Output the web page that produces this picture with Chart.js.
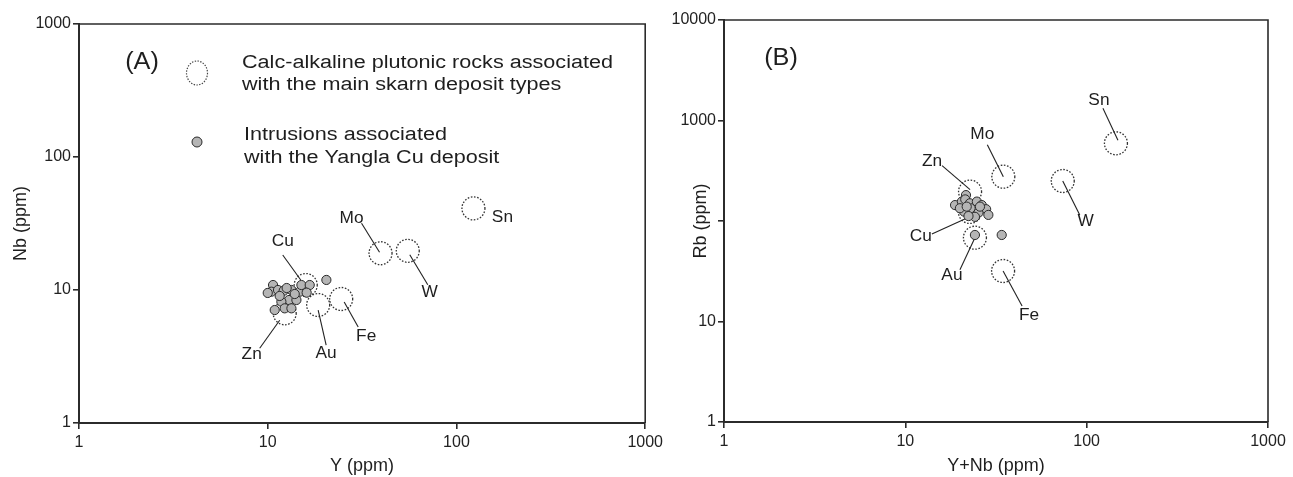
<!DOCTYPE html>
<html>
<head>
<meta charset="utf-8">
<script src="https://cdn.jsdelivr.net/npm/chart.js@4.4.1/dist/chart.umd.min.js"></script>
<style>
    html, body { margin: 0; padding: 0; background: #fff; }
    #wrap { position: relative; width: 1293px; height: 477px; overflow: hidden; }
    #chartA { position: absolute; left: 0; top: 0; }
    #chartB { position: absolute; left: 660px; top: 0; }
</style>
</head>
<body>
<div id="wrap">
    <canvas id="chartA" width="667" height="477"></canvas>
    <canvas id="chartB" width="633" height="477"></canvas>
</div>
<script>
// Skarn deposit types (dashed circles)
const depositTypes = ['Cu', 'Zn', 'Au', 'Fe', 'Mo', 'W', 'Sn'];
const skarnY    = [15.9, 12.3, 18.5, 24.5, 39.6, 55.2, 123];
const skarnNb   = [10.9, 6.68, 7.71, 8.56, 18.9, 19.7, 41.1];
const skarnYNb  = [22.7, 22.75, 24.2, 34.6, 34.7, 73.8, 145];
const skarnRb   = [123, 196, 68.2, 31.8, 276, 250, 593];

// Yangla intrusions (grey dots)
const yanglaY  = [10.67, 10.46, 11.34, 12.15, 13.35, 14.77, 15.08, 16.69, 13.6, 12.97, 11.81,
                  12.3, 13.35, 10.89, 14.19, 20.45, 16.08, 10.0, 11.57, 13.9, 12.6];
const yanglaNb = [10.9, 9.71, 10.0, 9.88, 10.0, 9.71, 10.9, 10.9, 8.66, 8.41, 8.17,
                  7.28, 7.28, 7.07, 8.41, 11.9, 9.55, 9.5, 9.02, 9.33, 10.35];
const yanglaYNb = [21.6, 18.8, 20.5, 21.4, 22.7, 24.8, 26.4, 27.9, 28.7, 22.9, 21.1,
                   25.3, 24.2, 22.3, 20.0, 24.2, 34.0, 25.8, 21.8];
const yanglaRb  = [181, 144, 156, 164, 150, 156, 144, 131, 115, 134, 124,
                   121, 110, 112, 134, 72.6, 72.6, 139, 139];

// Tick labels
const ticksX  = [1, 10, 100, 1000];
const ticksYA = [1, 10, 100, 1000];
const ticksYB = [1, 10, 100, 1000, 10000];
// in panel B the axis title sits over the 100 label
const hiddenLabelsYB = [100];

const FONT = "'Liberation Sans', Arial, sans-serif";
const INK = '#2b2b2b';

// label placement for each deposit type: leader line [x1,y1,x2,y2] and text [x,y], px from circle centre
const labelLayoutA = {
    Cu: { line: [-5, -5, -23, -30], text: [-23, -43] },
    Zn: { line: [-5, 7, -25, 35],   text: [-33, 41] },
    Au: { line: [0, 5, 8, 40],      text: [8, 49] },
    Fe: { line: [3, 3, 17, 28],     text: [25, 38] },
    Mo: { line: [-1, -1, -19, -30], text: [-29, -35] },
    W:  { line: [2, 4, 20, 34],     text: [22, 42] },
    Sn: { line: null,               text: [29, 9] }
};
const labelLayoutB = {
    Cu: { line: [-5, 7, -38, 22],   text: [-49, 25] },
    Zn: { line: [0, -2, -28, -26],  text: [-38, -30] },
    Au: { line: [0, 0, -15, 32],    text: [-23, 38] },
    Fe: { line: [0, 0, 19, 35],     text: [26, 45] },
    Mo: { line: [0, 0, -16, -32],   text: [-21, -42] },
    W:  { line: [0, 0, 17, 34],     text: [23, 41] },
    Sn: { line: [2, -3, -13, -35],  text: [-17, -43] }
};

function pairs(xs, ys) {
    return xs.map((x, i) => ({ x: x, y: ys[i] }));
}

function stretchedText(ctx, text, x, y, size, align, sx) {
    ctx.save();
    ctx.translate(x, y);
    ctx.scale(sx, 1);
    ctx.font = size + 'px ' + FONT;
    ctx.fillStyle = '#1e1e1e';
    ctx.textAlign = align;
    ctx.textBaseline = 'alphabetic';
    ctx.fillText(text, 0, 0);
    ctx.restore();
}

// dashed circles, leader lines and deposit names
const skarnMarks = {
    id: 'skarnMarks',
    beforeDatasetsDraw(chart, args, opts) {
        const ctx = chart.ctx;
        const meta = chart.getDatasetMeta(opts.datasetIndex);
        ctx.save();
        meta.data.forEach((pt, i) => {
            const name = depositTypes[i];
            const lay = opts.layout[name];
            ctx.beginPath();
            ctx.setLineDash([1.6, 1.6]);
            ctx.lineWidth = 1.3;
            ctx.strokeStyle = '#333';
            ctx.arc(pt.x, pt.y, opts.radius, 0, Math.PI * 2);
            ctx.stroke();
            ctx.setLineDash([]);
            if (lay.line) {
                ctx.beginPath();
                ctx.lineWidth = 1.1;
                ctx.strokeStyle = '#222';
                ctx.moveTo(pt.x + lay.line[0], pt.y + lay.line[1]);
                ctx.lineTo(pt.x + lay.line[2], pt.y + lay.line[3]);
                ctx.stroke();
            }
            ctx.font = '16px ' + FONT;
            ctx.fillStyle = '#1e1e1e';
            ctx.textAlign = 'center';
            ctx.textBaseline = 'middle';
            ctx.save();
            ctx.translate(pt.x + lay.text[0], pt.y + lay.text[1]);
            ctx.scale(1.08, 1);
            ctx.fillText(name, 0, 0);
            ctx.restore();
        });
        ctx.restore();
    }
};

// top / right frame lines, panel tag and legend
const panelDecor = {
    id: 'panelDecor',
    afterDraw(chart, args, opts) {
        const ctx = chart.ctx;
        const a = chart.chartArea;
        ctx.save();
        ctx.strokeStyle = INK;
        ctx.lineWidth = 1.6;
        ctx.beginPath();
        ctx.moveTo(a.left, a.top);
        ctx.lineTo(a.right, a.top);
        ctx.lineTo(a.right, a.bottom);
        ctx.stroke();

        stretchedText(ctx, opts.tag, a.left + opts.tagPos[0], a.top + opts.tagPos[1] + 8, 23, 'center', 1.1);

        if (opts.legend) {
            const lx = a.left + 118;
            ctx.beginPath();
            ctx.setLineDash([1.4, 1.4]);
            ctx.lineWidth = 1.2;
            ctx.strokeStyle = '#444';
            ctx.ellipse(lx, a.top + 49, 10.5, 12, 0, 0, Math.PI * 2);
            ctx.stroke();
            ctx.setLineDash([]);

            ctx.beginPath();
            ctx.fillStyle = '#b5b5b5';
            ctx.strokeStyle = '#2a2a2a';
            ctx.lineWidth = 1;
            ctx.arc(lx, a.top + 118, 5, 0, Math.PI * 2);
            ctx.fill();
            ctx.stroke();

            stretchedText(ctx, 'Calc-alkaline plutonic rocks associated', a.left + 163, a.top + 44, 18, 'left', 1.2);
            stretchedText(ctx, 'with the main skarn deposit types', a.left + 163, a.top + 66, 18, 'left', 1.2);
            stretchedText(ctx, 'Intrusions associated', a.left + 165, a.top + 116, 18, 'left', 1.2);
            stretchedText(ctx, 'with the Yangla Cu deposit', a.left + 165, a.top + 139, 18, 'left', 1.2);
        }
        ctx.restore();
    }
};

function logScale(min, max, tickValues, title, fitSize, isX, titlePad, hidden) {
    const skip = hidden || [];
    return {
        type: 'logarithmic',
        min: min,
        max: max,
        afterBuildTicks: function(scale) {
            scale.ticks = tickValues.map(v => ({ value: v }));
        },
        afterFit: function(scale) {
            if (isX) scale.height = fitSize;
            else scale.width = fitSize;
        },
        ticks: {
            autoSkip: false,
            maxRotation: 0,
            padding: isX ? 4 : 2,
            color: '#222',
            font: { family: FONT, size: 16 },
            callback: function(value) {
                return skip.indexOf(value) >= 0 ? '' : String(value);
            }
        },
        grid: {
            display: true,
            drawOnChartArea: false,
            drawTicks: true,
            tickLength: 6,
            color: INK,
            lineWidth: 1.6
        },
        border: { display: true, color: INK, width: 2 },
        title: {
            display: true,
            text: title,
            color: '#1e1e1e',
            font: { family: FONT, size: 18 },
            padding: isX ? { top: 0, bottom: 0 } : { top: titlePad, bottom: 0 }
        }
    };
}

function buildPanel(canvasId, xs, ys, cx, cy, cfg) {
    return new Chart(document.getElementById(canvasId), {
        type: 'scatter',
        data: {
            datasets: [
                {
                    label: 'Intrusions associated with the Yangla Cu deposit',
                    data: pairs(xs, ys),
                    backgroundColor: '#b5b5b5',
                    borderColor: '#2a2a2a',
                    borderWidth: 1,
                    pointRadius: 4.6
                },
                {
                    label: 'Calc-alkaline plutonic rocks associated with the main skarn deposit types',
                    data: pairs(cx, cy),
                    backgroundColor: 'rgba(0,0,0,0)',
                    borderColor: 'rgba(0,0,0,0)',
                    pointRadius: 11.5
                }
            ]
        },
        options: {
            responsive: false,
            animation: false,
            events: [],
            layout: { padding: cfg.padding },
            plugins: {
                legend: { display: false },
                tooltip: { enabled: false },
                skarnMarks: { datasetIndex: 1, radius: 11.5, layout: cfg.labels },
                panelDecor: { tag: cfg.tag, tagPos: cfg.tagPos, legend: cfg.legend }
            },
            scales: {
                x: logScale(1, 1000, ticksX, cfg.xTitle, cfg.xHeight, true, 0, null),
                y: logScale(1, cfg.yMax, cfg.yTicks, cfg.yTitle, cfg.yWidth, false, cfg.yTitlePad, cfg.yHidden)
            }
        },
        plugins: [skarnMarks, panelDecor]
    });
}

buildPanel('chartA', yanglaY, yanglaNb, skarnY, skarnNb, {
    padding: { top: 24, right: 15, bottom: 0, left: 0 },
    xTitle: 'Y (ppm)', yTitle: 'Nb (ppm)',
    xHeight: 54, yWidth: 79, yTitlePad: 10,
    yMax: 1000, yTicks: ticksYA, yHidden: null,
    labels: labelLayoutA,
    tag: '(A)', tagPos: [63, 37], legend: true
});

buildPanel('chartB', yanglaYNb, yanglaRb, skarnYNb, skarnRb, {
    padding: { top: 20, right: 25, bottom: 0, left: 0 },
    xTitle: 'Y+Nb (ppm)', yTitle: 'Rb (ppm)',
    xHeight: 55, yWidth: 64, yTitlePad: 30,
    yMax: 10000, yTicks: ticksYB, yHidden: hiddenLabelsYB,
    labels: labelLayoutB,
    tag: '(B)', tagPos: [57, 37], legend: false
});
</script>
</body>
</html>
